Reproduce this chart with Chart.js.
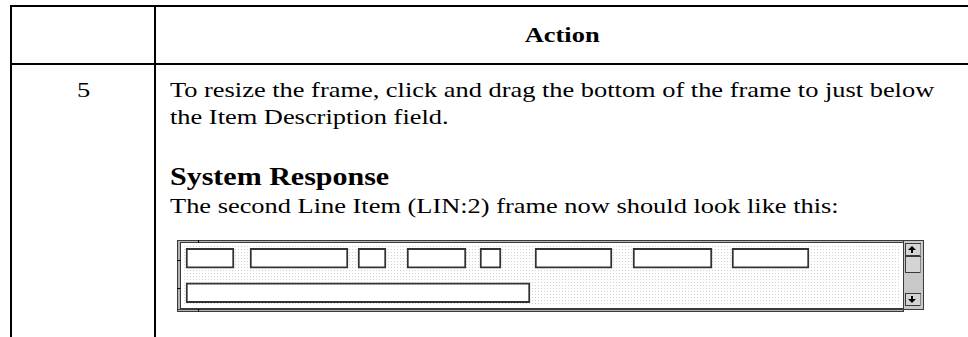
<!DOCTYPE html>
<html>
<head>
<meta charset="utf-8">
<script src="https://cdn.jsdelivr.net/npm/chart.js@4.4.1/dist/chart.umd.min.js"></script>
<style>
  body { margin: 0; background: #fff; }
  #page { position: relative; width: 968px; height: 337px; overflow: hidden; background: #fff; }
  .rule { position: absolute; background: #000; }
  .txt { position: absolute; white-space: nowrap; color: #000; font-family: "Liberation Serif", "Times New Roman", serif; font-size: 22px; line-height: 26px; }
  .txt span { display: inline-block; transform: scaleX(1.2); transform-origin: left center; }
  .txt.mid span { transform-origin: center center; }
  #frameBox { position: absolute; left: 177px; top: 240px; width: 747px; height: 72px; }
</style>
</head>
<body>
<div id="page">
  <div class="rule" style="left:10px;top:5px;width:958px;height:2px"></div>
  <div class="rule" style="left:10px;top:63px;width:958px;height:2px"></div>
  <div class="rule" style="left:10px;top:5px;width:2px;height:332px"></div>
  <div class="rule" style="left:154px;top:5px;width:2px;height:332px"></div>

  <div class="txt mid" style="left:156px;width:812px;top:22px;text-align:center;font-weight:bold"><span>Action</span></div>
  <div class="txt mid" style="left:12px;width:142px;top:77px;text-align:center"><span>5</span></div>
  <div class="txt" style="left:170px;top:77px;line-height:26.5px"><span>To resize the frame, click and drag the bottom of the frame to just below<br>the Item Description field.</span></div>
  <div class="txt" style="left:170px;top:164px;font-weight:bold;font-size:25px"><span>System Response</span></div>
  <div class="txt" style="left:170px;top:193px"><span>The second Line Item (LIN:2) frame now should look like this:</span></div>

  <div id="frameBox"><canvas id="frameChart"></canvas></div>
</div>
<script>
// field rows of the frame (LIN:2)
const rowLabels = ["row 1", "row 2"];
// start / end of each field, measured from the left edge of the frame
const row1Fields = [[9, 57], [73, 171], [181, 209], [230, 289], [303, 324], [358, 435], [456, 535], [555, 632]];
const row2Fields = [[9, 353]];
const frameWidth = 726;

const datasets = row1Fields.map((f, i) => ({
  data: [f, row2Fields[i] || null],
  backgroundColor: "#fff",
  borderColor: "#333",
  borderWidth: 2,
  borderSkipped: false,
  barThickness: 20,
  grouped: false,
}));

// dotted background, double border and scroll bar of the frame
const frameDecor = {
  id: "frameDecor",
  beforeDatasetsDraw(chart) {
    const c = chart.ctx;
    const h = chart.height;
    c.save();
    // double border
    c.fillStyle = "#b4b4b4";
    c.fillRect(0, 0, frameWidth, h);
    c.fillStyle = "#fff";
    c.fillRect(4, 3, frameWidth - 4, h - 7);
    c.fillStyle = "#d2d2d2";
    for (let y = 6; y < h - 6; y += 3) {
      for (let x = 7; x < frameWidth - 2; x += 3) c.fillRect(x, y, 1, 1);
    }
    c.strokeStyle = "#3a3a3a";
    c.lineWidth = 1;
    c.strokeRect(0.5, 0.5, frameWidth, h - 1);
    c.strokeRect(3.5, 2.5, frameWidth - 3, h - 6);
    c.beginPath();
    c.moveTo(0, h - 2.5); c.lineTo(frameWidth, h - 2.5);
    c.stroke();
    // little ticks
    c.fillStyle = "#000";
    c.fillRect(21, 0, 1, 3);
    c.fillRect(21, h - 3, 1, 3);
    c.fillRect(0, 20, 3, 1);
    c.fillRect(0, 48, 3, 1);
    c.restore();
  },
  afterDraw(chart) {
    const c = chart.ctx;
    const h = chart.height;
    const x0 = frameWidth;
    const w = chart.width - frameWidth - 1;
    c.save();
    c.fillStyle = "#c8c8c8";
    c.fillRect(x0, 0, w, h - 2);
    c.strokeStyle = "#3a3a3a";
    c.lineWidth = 1;
    c.strokeRect(x0 + 0.5, 0.5, w, h - 3);
    const box = (y, bh) => {
      c.fillStyle = "#d4d4d4";
      c.fillRect(x0 + 2, y, w - 4, bh);
      c.strokeStyle = "#3a3a3a";
      c.strokeRect(x0 + 2.5, y + 0.5, w - 5, bh - 1);
      c.fillStyle = "#888";
      c.fillRect(x0 + w - 3, y + 1, 1, bh - 1);
    };
    box(3, 13);
    box(16, 17);
    box(53, 13);
    // arrows
    c.fillStyle = "#000";
    const mx = x0 + w / 2 - 1;
    c.beginPath(); c.moveTo(mx - 4, 10); c.lineTo(mx, 6); c.lineTo(mx + 4, 10); c.closePath(); c.fill();
    c.fillRect(mx - 1, 10, 2, 3);
    c.beginPath(); c.moveTo(mx - 4, 59); c.lineTo(mx, 63); c.lineTo(mx + 4, 59); c.closePath(); c.fill();
    c.fillRect(mx - 1, 56, 2, 3);
    c.restore();
  },
};

new Chart(document.getElementById("frameChart"), {
  type: "bar",
  data: { labels: rowLabels, datasets },
  options: {
    indexAxis: "y",
    responsive: true,
    maintainAspectRatio: false,
    animation: false,
    layout: { padding: { left: 0, right: 21, top: 1, bottom: 2 } },
    plugins: { legend: { display: false }, tooltip: { enabled: false } },
    scales: {
      x: { type: "linear", min: 0, max: frameWidth, display: false },
      y: { type: "category", display: false },
    },
  },
  plugins: [frameDecor],
});
</script>
</body>
</html>
